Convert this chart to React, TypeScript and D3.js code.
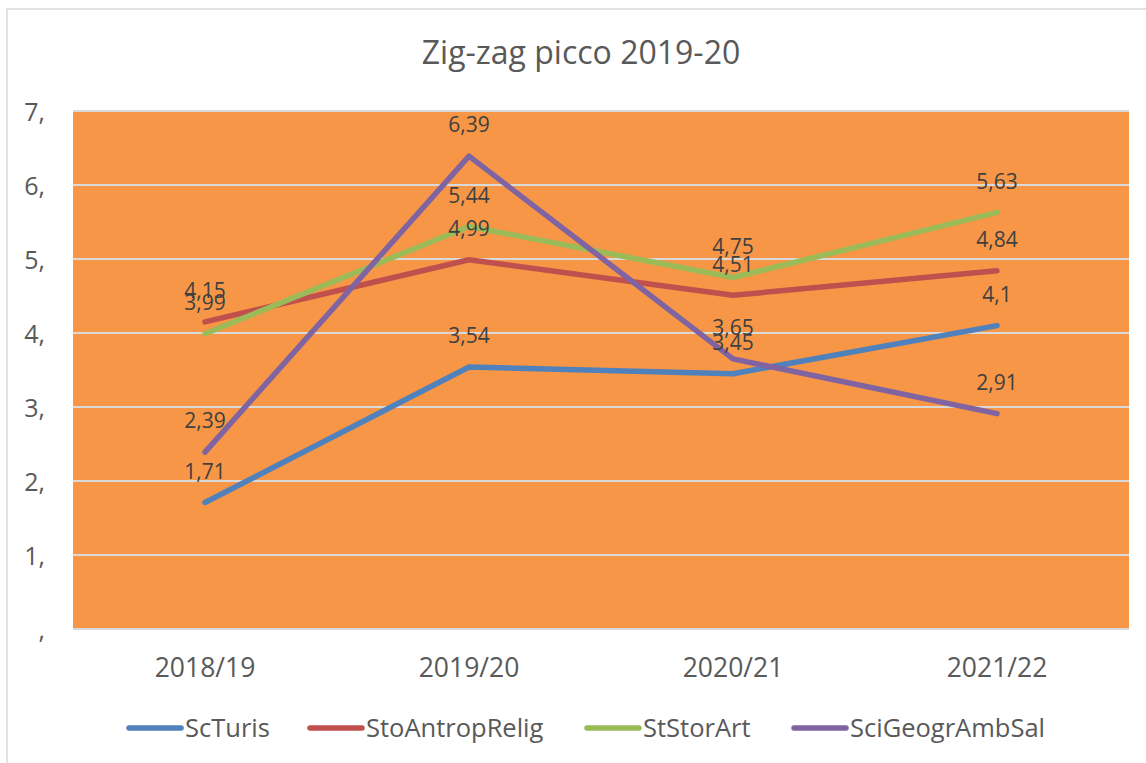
import * as d3 from "d3";
import React from "react";

// anni accademici e serie
const years = ["2018/19", "2019/20", "2020/21", "2021/22"];
const seriesNames = ["ScTuris", "StoAntropRelig", "StStorArt", "SciGeogrAmbSal"];
const scTuris = [1.71, 3.54, 3.45, 4.1];
const stoAntropRelig = [4.15, 4.99, 4.51, 4.84];
const stStorArt = [3.99, 5.44, 4.75, 5.63];
const sciGeogrAmbSal = [2.39, 6.39, 3.65, 2.91];
const yTicks = [0, 1, 2, 3, 4, 5, 6, 7];
const yTickLabels = [",", "1,", "2,", "3,", "4,", "5,", "6,", "7,"];
const colors = ["#4F81BD", "#C0504D", "#9BBB59", "#8064A2"];

const allSeries = [scTuris, stoAntropRelig, stStorArt, sciGeogrAmbSal];

const W = 1146;
const H = 763;
const left = 73;
const right = 1129;
const top = 111;
const bottom = 629;
const font = "'Open Sans', 'Noto Sans', sans-serif";

const fmt = (v: number) => String(v).replace(".", ",");

export default function App() {
  const x = d3.scaleBand().domain(years).range([left, right]);
  const y = d3.scaleLinear().domain([0, 7]).range([bottom, top]);
  const line = d3
    .line<number>()
    .x((_, i) => (x(years[i]) as number) + x.bandwidth() / 2)
    .y((d) => y(d));

  // legenda: inizio dei segmenti
  const legendX = [127, 308, 585, 792];

  return (
    <svg
      width={W}
      height={H}
      style={{ position: "absolute", left: 0, top: 0 }}
      fontFamily={font}
    >
      <rect x={0} y={0} width={W} height={H} fill="white" />
      <rect x={7} y={9} width={W + 20} height={H + 20} fill="none" stroke="#D9D9D9" strokeWidth={1.5} />

      <text x={581} y={53} dy="0.35em" textAnchor="middle" fontSize={32} fill="#595959">
        Zig-zag picco 2019-20
      </text>

      {/* area del grafico */}
      <rect x={left} y={top} width={right - left} height={bottom - top} fill="#F79646" />
      {yTicks.slice(1).map((t) => (
        <line key={t} x1={left} x2={right} y1={y(t)} y2={y(t)} stroke="#D9D9D9" strokeWidth={2} />
      ))}
      <line x1={left} x2={right} y1={bottom} y2={bottom} stroke="#D9D9D9" strokeWidth={2} />

      {yTicks.map((t, i) => (
        <text key={t} x={45} y={y(t) + 1} dy="0.35em" textAnchor="end" fontSize={25} fill="#595959">
          {yTickLabels[i]}
        </text>
      ))}

      {years.map((yr) => (
        <text
          key={yr}
          x={(x(yr) as number) + x.bandwidth() / 2}
          y={668}
          dy="0.35em"
          textAnchor="middle"
          fontSize={26.5}
          fill="#595959"
        >
          {yr}
        </text>
      ))}

      {allSeries.map((s, k) => (
        <path
          key={k}
          d={line(s) || ""}
          fill="none"
          stroke={colors[k]}
          strokeWidth={5.5}
          strokeLinejoin="round"
          strokeLinecap="round"
        />
      ))}

      {allSeries.map((s, k) =>
        s.map((v, i) => (
          <text
            key={k + "-" + i}
            x={(x(years[i]) as number) + x.bandwidth() / 2}
            y={y(v) - 31}
            dy="0.35em"
            textAnchor="middle"
            fontSize={21}
            fill="#404040"
          >
            {fmt(v)}
          </text>
        ))
      )}

      {seriesNames.map((n, k) => (
        <g key={n} transform={`translate(${legendX[k]}, 728)`}>
          <line x1={2} x2={54} y1={0} y2={0} stroke={colors[k]} strokeWidth={5.5} strokeLinecap="round" />
          <text x={58} y={0} dy="0.35em" fontSize={25.5} fill="#595959">
            {n}
          </text>
        </g>
      ))}
    </svg>
  );
}
